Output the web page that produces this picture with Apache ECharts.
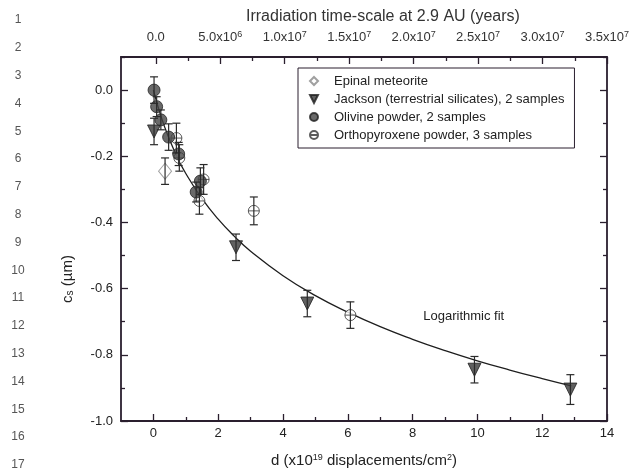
<!DOCTYPE html>
<html>
<head>
<meta charset="utf-8">
<script src="https://cdn.jsdelivr.net/npm/echarts@6/dist/echarts.min.js"></script>
<style>
html, body { margin: 0; padding: 0; background: #fff; }
#main { width: 632px; height: 473px; }
</style>
</head>
<body>
<div id="main"></div>
<script>
// values: [d (x1e19 displacements/cm2), c_s (um), error]
var epinal = [[0.36, -0.245, 0.04]];
var jackson = [[0.02, -0.125, 0.04], [2.55, -0.475, 0.04], [4.75, -0.645, 0.04], [9.91, -0.845, 0.04], [12.87, -0.905, 0.045]];
var olivine = [[0.02, 0.0, 0.04], [0.10, -0.05, 0.03], [0.23, -0.09, 0.03], [0.47, -0.142, 0.04], [0.78, -0.193, 0.035], [1.32, -0.308, 0.03], [1.45, -0.275, 0.04]];
var ortho = [[0.71, -0.145, 0.045], [0.80, -0.205, 0.04], [1.55, -0.27, 0.045], [1.42, -0.335, 0.04], [3.10, -0.365, 0.042], [6.08, -0.68, 0.04]];

// logarithmic fit curve
var fitD = [0, 0.25, 0.5, 0.75, 1, 1.5, 2, 2.5, 3, 4, 5, 6, 7, 8, 9, 10, 11, 12, 12.9];
var fitC = [0, -0.084, -0.15, -0.205, -0.252, -0.328, -0.39, -0.442, -0.487, -0.561, -0.621, -0.671, -0.715, -0.753, -0.787, -0.818, -0.846, -0.872, -0.894];

// ticks
var xMajor = [0, 2, 4, 6, 8, 10, 12, 14];
var xMinor = [1, 3, 5, 7, 9, 11, 13];
var yMajor = [-1, -0.8, -0.6, -0.4, -0.2, 0];
var yMinor = [-0.9, -0.7, -0.5, -0.3, -0.1, 0.1];
var topMajor = [0, 5e6, 1e7, 1.5e7, 2e7, 2.5e7, 3e7, 3.5e7];
var topMinor = [2.5e6, 7.5e6, 1.25e7, 1.75e7, 2.25e7, 2.75e7, 3.25e7];
var lineNumbers = [1, 2, 3, 4, 5, 6, 7, 8, 9, 10, 11, 12, 13, 14, 15, 16, 17];

var ink = '#2a1f2e';
var font = 'Liberation Sans, Arial, sans-serif';

var myChart = echarts.init(document.getElementById('main'));

function pts(arr) {
    var out = [];
    for (var i = 0; i < arr.length; i++) out.push([arr[i][0], arr[i][1]]);
    return out;
}
var errData = [];
[epinal, jackson, olivine, ortho].forEach(function (arr) {
    for (var i = 0; i < arr.length; i++) {
        errData.push([arr[i][0], arr[i][1] - arr[i][2], arr[i][1] + arr[i][2]]);
    }
});
var fitData = [];
for (var i = 0; i < fitD.length; i++) fitData.push([fitD[i], fitC[i]]);

function renderErr(params, api) {
    var x = api.value(0);
    var lo = api.coord([x, api.value(1)]);
    var hi = api.coord([x, api.value(2)]);
    var w = 4;
    var st = { stroke: '#2a2a2a', lineWidth: 1.2, fill: null };
    return {
        type: 'group',
        children: [
            { type: 'line', shape: { x1: lo[0], y1: lo[1], x2: hi[0], y2: hi[1] }, style: st },
            { type: 'line', shape: { x1: lo[0] - w, y1: lo[1], x2: lo[0] + w, y2: lo[1] }, style: st },
            { type: 'line', shape: { x1: hi[0] - w, y1: hi[1], x2: hi[0] + w, y2: hi[1] }, style: st }
        ]
    };
}

function topLabel(v) {
    if (v === 0) return '{b|0.0}';
    var e = Math.floor(Math.log10(v) + 1e-9);
    var m = v / Math.pow(10, e);
    return '{b|' + m.toFixed(1) + 'x10}{s|' + e + '}';
}

var tickMajor = { show: true, inside: true, length: 7, lineStyle: { color: ink, width: 1.3 } };
var tickMinor = { show: true, inside: true, length: 4, lineStyle: { color: ink, width: 1.3 } };
var axisLn = { show: true, onZero: false, lineStyle: { color: ink, width: 1.8 } };
var noLn = { show: false, onZero: false };

var lineNumGraphics = [];
for (var k = 0; k < lineNumbers.length; k++) {
    lineNumGraphics.push({
        type: 'text', x: 18, y: 20 + k * 27.8,
        style: { text: String(lineNumbers[k]), fill: '#555', font: '12px ' + font, align: 'center', verticalAlign: 'middle' }
    });
}

var option = {
    animation: false,
    textStyle: { fontFamily: font },
    title: {
        text: 'Irradiation time-scale at 2.9 AU (years)',
        left: 241, top: 4,
        textStyle: { fontSize: 16, fontWeight: 'normal', color: '#333', fontFamily: font }
    },
    legend: {
        left: 298, top: 68,
        orient: 'vertical',
        padding: [6, 10, 6, 11],
        itemGap: 4,
        itemWidth: 8, itemHeight: 8,
        borderColor: ink, borderWidth: 1,
        textStyle: { fontSize: 13, color: '#222', lineHeight: 14, padding: [0, 0, 0, 11] },
        data: ['Epinal meteorite', 'Jackson (terrestrial silicates), 2 samples', 'Olivine powder, 2 samples', 'Orthopyroxene powder, 3 samples']
    },
    grid: { left: 121, right: 22, top: 57, bottom: 51 },
    xAxis: [{
        type: 'value', position: 'bottom', min: -1, max: 14,
        axisLine: axisLn, splitLine: { show: false },
        axisTick: Object.assign({ customValues: xMajor }, tickMajor),
        axisLabel: { customValues: xMajor, margin: 6, fontSize: 13, color: '#222' },
        name: 'd (x10{s|19} displacements/cm{s|2})',
        nameLocation: 'middle', nameGap: 32,
        nameTextStyle: { fontSize: 15, color: '#222', rich: { s: { fontSize: 9, verticalAlign: 'top', color: '#222' } } }
    }, {
        type: 'value', position: 'bottom', min: -1, max: 14,
        axisLine: noLn, splitLine: { show: false }, axisLabel: { show: false },
        axisTick: Object.assign({ customValues: xMinor }, tickMinor)
    }, {
        type: 'value', position: 'top', min: -2.7e6, max: 3.5e7,
        axisLine: axisLn, splitLine: { show: false },
        axisTick: Object.assign({ customValues: topMajor }, tickMajor),
        axisLabel: {
            customValues: topMajor, margin: 12, formatter: topLabel,
            rich: {
                b: { fontSize: 13, color: '#333', lineHeight: 15 },
                s: { fontSize: 9, color: '#333', verticalAlign: 'top', lineHeight: 15 }
            }
        }
    }, {
        type: 'value', position: 'top', min: -2.7e6, max: 3.5e7,
        axisLine: noLn, splitLine: { show: false }, axisLabel: { show: false },
        axisTick: Object.assign({ customValues: topMinor }, tickMinor)
    }],
    yAxis: [{
        type: 'value', position: 'left', min: -1, max: 0.1,
        axisLine: axisLn, splitLine: { show: false },
        axisTick: Object.assign({ customValues: yMajor }, tickMajor),
        axisLabel: { customValues: yMajor, margin: 8, fontSize: 13, color: '#222', formatter: function (v) { return v.toFixed(1); } },
        name: 'c{s|s} (\u00b5m)', nameLocation: 'middle', nameGap: 46,
        nameTextStyle: { fontSize: 15, color: '#222', padding: [0, 80, 0, 0], rich: { s: { fontSize: 10, verticalAlign: 'bottom', color: '#222' } } }
    }, {
        type: 'value', position: 'left', min: -1, max: 0.1,
        axisLine: noLn, splitLine: { show: false }, axisLabel: { show: false },
        axisTick: Object.assign({ customValues: yMinor }, tickMinor)
    }, {
        type: 'value', position: 'right', min: -1, max: 0.1,
        axisLine: axisLn, splitLine: { show: false }, axisLabel: { show: false },
        axisTick: Object.assign({ customValues: yMajor }, tickMajor)
    }, {
        type: 'value', position: 'right', min: -1, max: 0.1,
        axisLine: noLn, splitLine: { show: false }, axisLabel: { show: false },
        axisTick: Object.assign({ customValues: yMinor }, tickMinor)
    }],
    series: [{
        name: 'fit', type: 'line', data: fitData, smooth: true, showSymbol: false, z: 1,
        lineStyle: { color: '#1e1e1e', width: 1.3 }, silent: true
    }, {
        name: 'Epinal meteorite', type: 'scatter', data: pts(epinal), z: 3,
        symbol: 'diamond', symbolSize: [13, 16],
        itemStyle: { color: '#fff', borderColor: '#888', borderWidth: 1 }
    }, {
        name: 'Jackson (terrestrial silicates), 2 samples', type: 'scatter', data: pts(jackson), z: 3,
        symbol: 'path://M0,0 L10,0 L5,10 Z', symbolSize: [13, 13],
        itemStyle: { color: '#3a3a3a', borderColor: '#1e1e1e', borderWidth: 1 }
    }, {
        name: 'Olivine powder, 2 samples', type: 'scatter', data: pts(olivine), z: 4,
        symbol: 'circle', symbolSize: 12,
        itemStyle: { color: '#454545', borderColor: '#222', borderWidth: 1 }
    }, {
        name: 'Orthopyroxene powder, 3 samples', type: 'scatter', data: pts(ortho), z: 3,
        symbol: 'path://M0,10 A10,10 0 1,1 20,10 A10,10 0 1,1 0,10 Z M0,10 L20,10', symbolSize: 11,
        itemStyle: { color: '#fff', borderColor: '#333', borderWidth: 1 }
    }, {
        name: 'err', type: 'custom', data: errData, renderItem: renderErr, z: 5, silent: true,
        encode: { x: 0, y: [1, 2] }
    }],
    graphic: lineNumGraphics
};

myChart.setOption(option);

// "Logarithmic fit" note next to the curve
var p = myChart.convertToPixel({ gridIndex: 0 }, [8.33, -0.685]);
myChart.setOption({
    graphic: lineNumGraphics.concat([{
        type: 'text', x: p[0], y: p[1],
        style: { text: 'Logarithmic fit', fill: '#222', font: '13px ' + font, verticalAlign: 'middle' }
    }])
});
</script>
</body>
</html>
